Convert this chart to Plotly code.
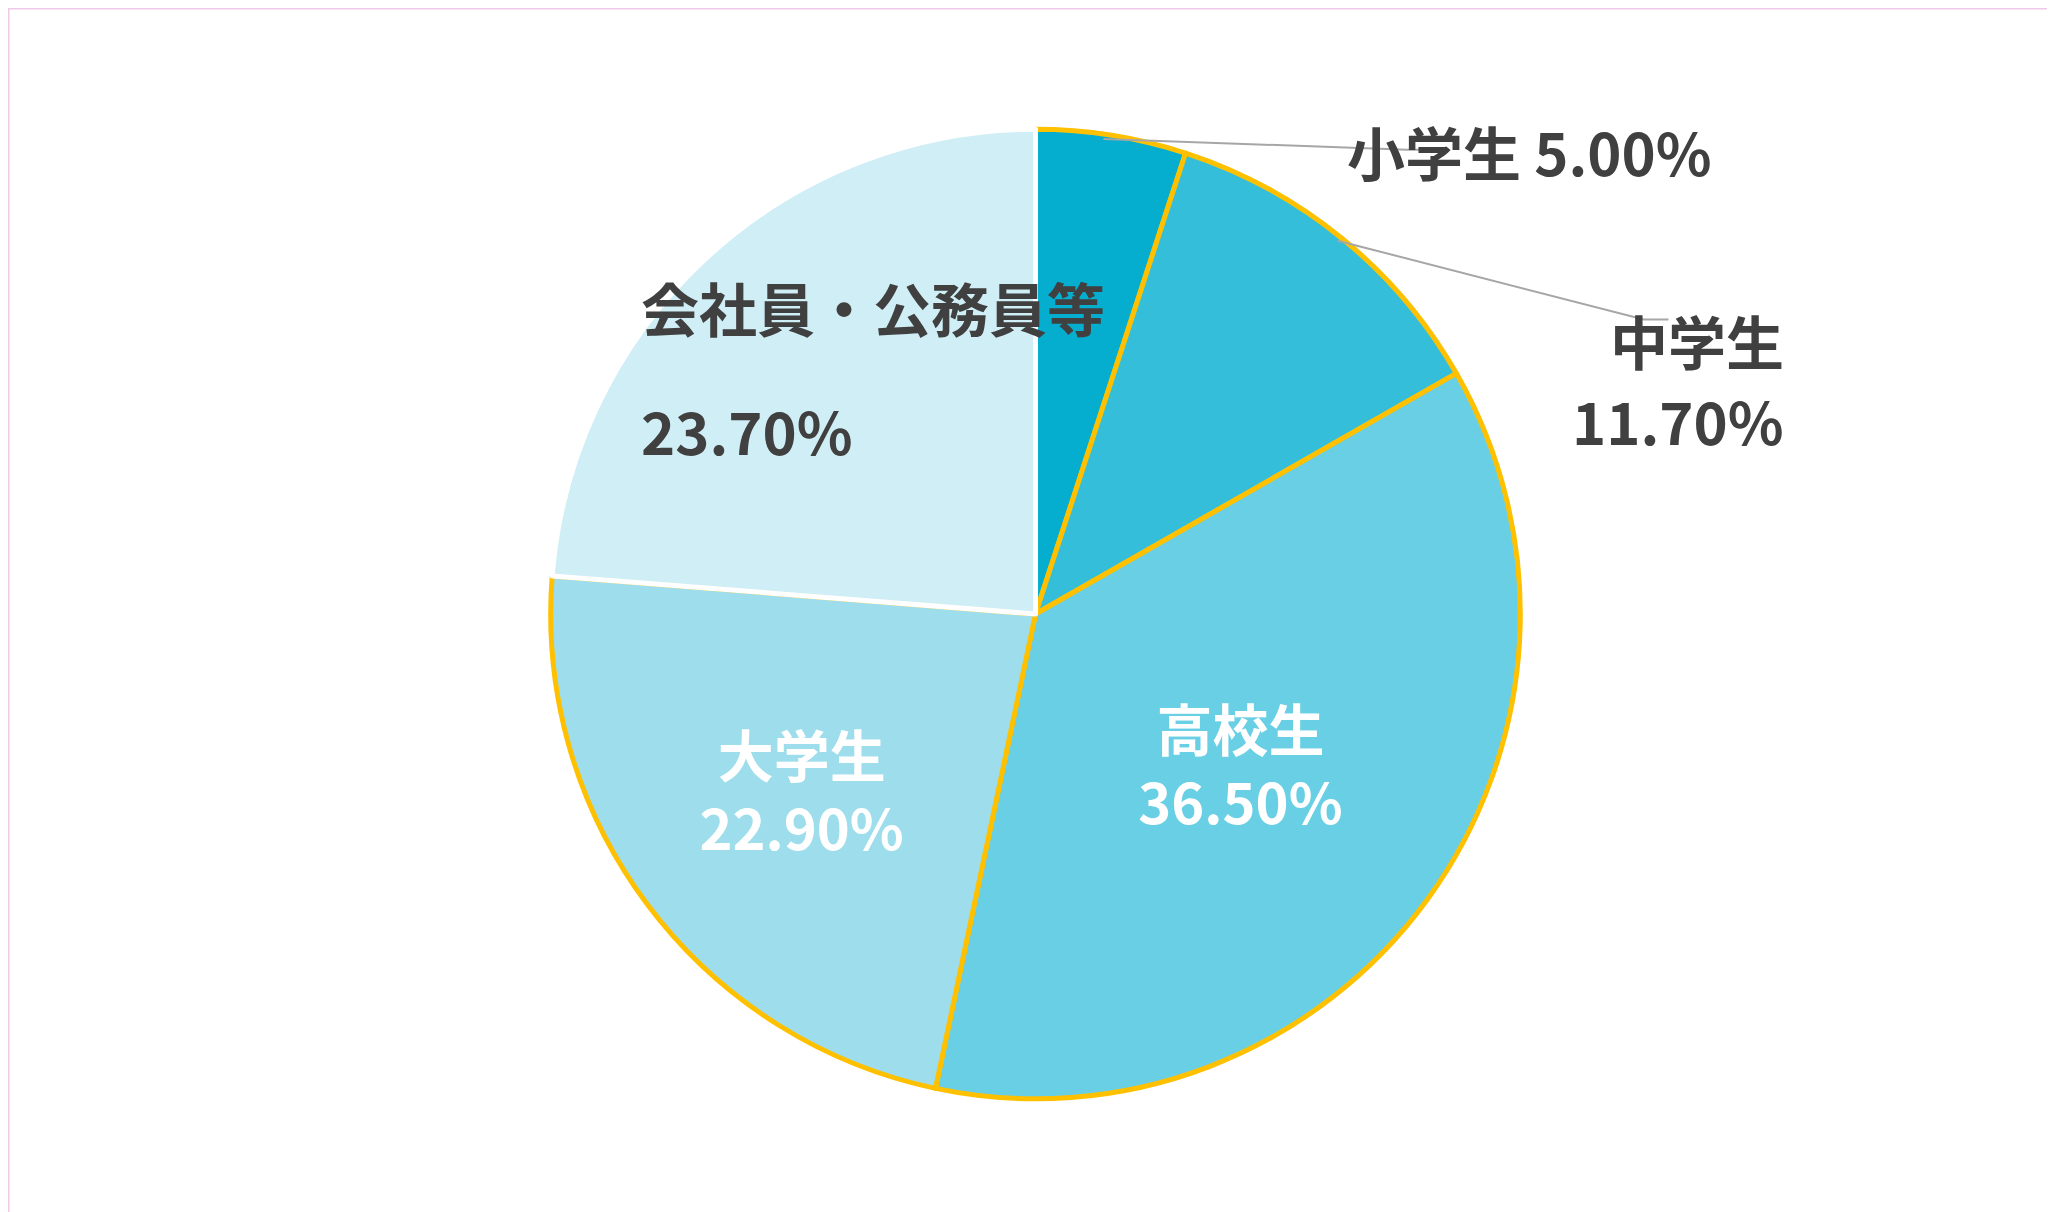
import plotly.graph_objects as go

labels = ["小学生", "中学生", "高校生", "大学生", "会社員・公務員等"]
values = [5.0, 11.7, 36.5, 22.9, 23.7]
colors = ["#05AECE", "#35BED9", "#69CFE4", "#9EDEEC", "#CFEEF5"]
line_colors = ["#FFC000", "#FFC000", "#FFC000", "#FFC000", "#FFFFFF"]
show_inside = [False, False, True, True, False]

FONT = "Noto Sans CJK JP"
texts = [f"<b>{l}<br>{v:.2f}%</b>" if s else "" for l, v, s in zip(labels, values, show_inside)]

fig = go.Figure(go.Pie(
    labels=labels, values=values, sort=False, direction="clockwise", rotation=0,
    marker=dict(colors=colors, line=dict(color=line_colors, width=5)),
    text=texts, textinfo="text", textposition="inside", insidetextorientation="horizontal",
    textfont=dict(color="#FFFFFF", size=56, family=FONT),
    domain=dict(x=[0, 1], y=[0.1, 0.9]),
    showlegend=False, hoverinfo="skip",
))

dark = "#404040"
ann = [
    dict(x=0.83, y=0.918, text=f"<b>{labels[0]} {values[0]:.2f}%</b>"),
    dict(x=0.865, y=0.762, text=f"<b>{labels[1]}</b>"),
    dict(x=0.865, y=0.66, text=f"<b>{values[1]:.2f}%</b>"),
    dict(x=0.307, y=0.79, text=f"<b>{labels[4]}</b>"),
    dict(x=0.307, y=0.688, text=f"<b>{values[4]:.2f}%</b>"),
]
annotations = [dict(xref="paper", yref="paper", showarrow=False, x=a["x"], y=a["y"],
                    text=a["text"], font=dict(size=58, color=dark, family=FONT)) for a in ann]

grey = dict(color="#A6A6A6", width=2)
shapes = [
    dict(type="path", xref="paper", yref="paper", line=grey,
         path="M 0.533 0.892 L 0.681 0.883 L 0.693 0.883"),
    dict(type="path", xref="paper", yref="paper", line=grey,
         path="M 0.647 0.808 L 0.796 0.743 L 0.808 0.743"),
    dict(type="rect", xref="paper", yref="paper", x0=0, y0=0, x1=1, y1=1,
         line=dict(color="#F0C8E8", width=3)),
]

fig.update_layout(
    width=2055, height=1212, margin=dict(l=0, r=0, t=0, b=0, autoexpand=False),
    paper_bgcolor="white", annotations=annotations, shapes=shapes,
)
fig.write_html("out.html")
